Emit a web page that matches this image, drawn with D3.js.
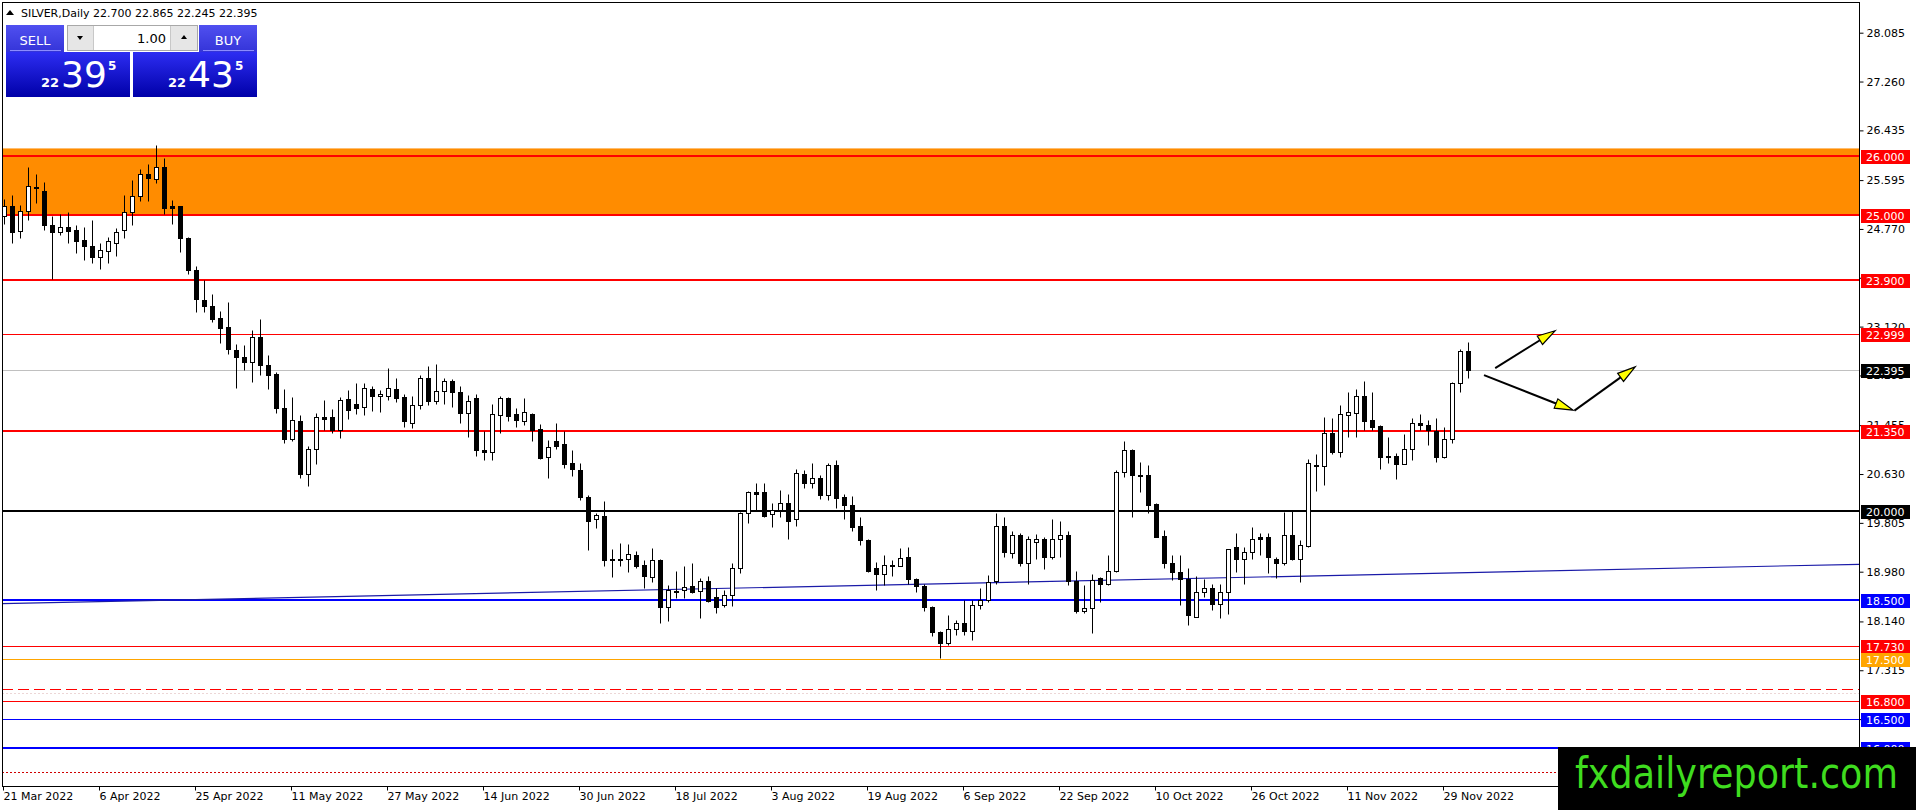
<!DOCTYPE html>
<html>
<head>
<meta charset="utf-8">
<script src="https://cdn.jsdelivr.net/npm/d3@7"></script>
<style>
  body { margin: 0; background: #fff; overflow: hidden; }
  svg { display: block; }
  text { font-family: "DejaVu Sans", sans-serif; }
</style>
</head>
<body>
<svg id="chart" width="1916" height="810"></svg>
<script>
// ---- data (SILVER, Daily, 21 Mar 2022 - 2 Dec 2022) ----
const symbol = "SILVER";
const period = "Daily";

const opens = [
  24.99, 25.16, 24.73, 25.07, 25.48, 25.41, 24.83, 24.71, 24.81, 24.75,
  24.58, 24.49, 24.29, 24.40, 24.54, 24.75, 25.05, 25.32, 25.69, 25.61,
  25.81, 25.15, 25.15, 24.62, 24.08, 23.57, 23.47, 23.26, 23.11, 22.73,
  22.60, 22.52, 22.94, 22.47, 22.32, 21.74, 21.22, 21.53, 20.63, 21.06,
  21.59, 21.59, 21.37, 21.89, 21.81, 21.76, 22.07, 21.94, 21.95, 22.07,
  21.93, 21.50, 21.79, 22.26, 21.87, 22.03, 22.20, 22.01, 21.66, 21.91,
  21.04, 21.00, 21.63, 21.92, 21.64, 21.53, 21.64, 21.39, 20.91, 21.19,
  21.13, 20.81, 20.70, 20.25, 19.87, 19.92, 19.20, 19.20, 19.20, 19.26,
  19.09, 18.89, 19.18, 18.38, 18.66, 18.67, 18.74, 18.65, 18.83, 18.56,
  18.42, 18.59, 19.04, 19.97, 20.33, 20.33, 19.96, 20.03, 20.14, 19.87,
  20.63, 20.48, 20.56, 20.27, 20.78, 20.24, 20.11, 19.75, 19.52, 19.04,
  18.94, 19.09, 19.08, 19.22, 18.85, 18.74, 18.38, 17.96, 17.77, 18.01,
  18.11, 17.97, 18.42, 18.50, 18.82, 19.76, 19.29, 19.60, 19.13, 19.49,
  19.53, 19.23, 19.53, 19.60, 18.83, 18.32, 18.36, 18.87, 18.78, 18.99,
  20.67, 21.03, 20.61, 20.61, 20.13, 19.58, 19.12, 18.98, 18.85, 18.22,
  18.63, 18.70, 18.44, 18.63, 19.39, 19.19, 19.31, 19.56, 19.56, 19.19,
  19.12, 19.60, 19.19, 19.42, 20.78, 20.76, 21.32, 21.01, 21.63, 21.66,
  21.95, 21.54, 21.44, 20.94, 20.94, 20.80, 21.05, 21.49, 21.46, 21.35,
  20.91, 21.22, 22.16, 22.700
];
const highs = [
  25.28, 25.34, 25.17, 25.81, 25.70, 25.56, 24.99, 25.03, 25.06, 24.83,
  24.81, 24.92, 24.54, 24.64, 24.78, 25.34, 25.59, 25.79, 25.87, 26.19,
  25.96, 25.26, 25.16, 24.64, 24.14, 23.90, 23.67, 23.38, 23.54, 22.82,
  22.81, 23.06, 23.25, 22.64, 22.36, 22.06, 21.93, 21.63, 21.10, 21.66,
  21.88, 21.72, 21.93, 22.05, 22.16, 22.17, 22.12, 22.05, 22.42, 22.25,
  21.98, 21.94, 22.30, 22.46, 22.49, 22.25, 22.23, 22.11, 21.97, 21.98,
  21.35, 21.81, 21.94, 21.93, 21.74, 21.91, 21.66, 21.47, 21.21, 21.50,
  21.35, 21.04, 20.81, 20.28, 19.98, 20.17, 19.36, 19.47, 19.44, 19.33,
  19.18, 19.38, 19.20, 18.76, 19.00, 19.07, 19.13, 18.87, 18.91, 18.70,
  18.67, 19.12, 19.99, 20.34, 20.48, 20.48, 20.14, 20.36, 20.30, 20.71,
  20.70, 20.82, 20.61, 20.82, 20.86, 20.29, 20.26, 19.91, 19.54, 19.15,
  19.26, 19.18, 19.38, 19.39, 18.87, 18.78, 18.40, 17.98, 18.25, 18.17,
  18.50, 18.51, 18.70, 18.93, 19.97, 19.90, 19.66, 19.64, 19.58, 19.62,
  19.56, 19.87, 19.83, 19.66, 19.00, 18.76, 18.94, 18.89, 19.26, 20.70,
  21.19, 21.05, 20.84, 20.78, 20.14, 19.69, 19.26, 19.26, 19.04, 18.91,
  18.85, 18.78, 18.78, 19.36, 19.63, 19.40, 19.74, 19.63, 19.63, 19.22,
  19.99, 20.02, 19.52, 20.88, 20.97, 21.60, 21.57, 21.80, 22.02, 22.07,
  22.20, 22.02, 21.45, 21.26, 20.99, 21.31, 21.57, 21.64, 21.54, 21.57,
  21.42, 22.19, 22.75, 22.865
];
const lows = [
  24.85, 24.54, 24.62, 24.92, 25.21, 24.76, 23.92, 24.66, 24.53, 24.37,
  24.25, 24.19, 24.09, 24.20, 24.32, 24.62, 24.83, 25.25, 25.25, 25.55,
  25.02, 24.85, 24.38, 24.01, 23.36, 23.36, 23.20, 22.85, 22.65, 22.09,
  22.39, 22.18, 22.30, 22.06, 21.66, 21.15, 21.19, 20.57, 20.42, 20.80,
  21.37, 21.33, 21.24, 21.56, 21.64, 21.63, 21.70, 21.68, 21.88, 21.84,
  21.43, 21.40, 21.72, 21.80, 21.82, 21.82, 21.77, 21.50, 21.25, 20.94,
  20.87, 20.87, 21.32, 21.53, 21.43, 21.46, 21.19, 20.88, 20.57, 21.06,
  20.74, 20.59, 20.19, 19.35, 19.72, 19.07, 18.89, 19.07, 18.98, 19.04,
  18.71, 18.81, 18.11, 18.15, 18.53, 18.53, 18.62, 18.20, 18.47, 18.28,
  18.38, 18.40, 18.95, 19.81, 20.03, 19.91, 19.74, 19.91, 19.53, 19.75,
  20.39, 20.39, 20.20, 20.19, 20.05, 19.87, 19.66, 19.43, 18.98, 18.67,
  18.76, 18.91, 19.07, 18.78, 18.64, 18.31, 17.89, 17.52, 17.74, 17.91,
  17.91, 17.83, 18.35, 18.47, 18.78, 19.23, 19.21, 19.08, 18.77, 19.19,
  19.03, 19.19, 19.23, 18.75, 18.29, 18.29, 17.94, 18.46, 18.76, 18.98,
  20.58, 19.91, 20.33, 19.97, 19.56, 19.04, 18.84, 18.42, 18.08, 18.21,
  18.56, 18.33, 18.19, 18.27, 18.98, 18.77, 19.19, 19.26, 18.96, 18.87,
  19.10, 19.17, 18.81, 19.40, 20.35, 20.45, 20.97, 20.92, 21.25, 21.26,
  21.37, 21.37, 20.72, 20.81, 20.55, 20.80, 20.87, 21.37, 21.12, 20.84,
  20.90, 21.16, 22.01, 22.245
];
const closes = [
  25.15, 24.72, 25.07, 25.49, 25.47, 24.83, 24.72, 24.81, 24.74, 24.57,
  24.49, 24.29, 24.41, 24.57, 24.71, 25.05, 25.32, 25.69, 25.63, 25.81,
  25.13, 25.13, 24.61, 24.08, 23.58, 23.46, 23.25, 23.10, 22.74, 22.60,
  22.53, 22.94, 22.48, 22.31, 21.75, 21.22, 21.54, 20.63, 21.06, 21.59,
  21.56, 21.37, 21.88, 21.71, 21.75, 22.08, 21.94, 21.98, 22.08, 21.92,
  21.52, 21.79, 22.26, 21.87, 22.04, 22.20, 22.01, 21.66, 21.86, 21.03,
  21.01, 21.65, 21.91, 21.61, 21.54, 21.67, 21.37, 20.90, 21.09, 21.11,
  20.80, 20.71, 20.24, 19.84, 19.94, 19.17, 19.17, 19.17, 19.28, 19.07,
  18.90, 19.18, 18.38, 18.67, 18.63, 18.72, 18.63, 18.83, 18.49, 18.39,
  18.59, 19.04, 19.97, 20.32, 20.30, 19.92, 20.02, 20.14, 19.84, 20.64,
  20.48, 20.56, 20.27, 20.78, 20.23, 20.10, 19.74, 19.51, 19.00, 18.94,
  19.09, 19.07, 19.21, 18.86, 18.73, 18.39, 17.96, 17.77, 18.01, 18.12,
  17.97, 18.42, 18.50, 18.81, 19.76, 19.31, 19.60, 19.13, 19.54, 19.53,
  19.23, 19.53, 19.60, 18.83, 18.32, 18.36, 18.84, 18.78, 19.00, 20.67,
  21.03, 20.61, 20.59, 20.11, 19.57, 19.12, 18.98, 18.85, 18.25, 18.63,
  18.70, 18.44, 18.63, 19.36, 19.19, 19.31, 19.54, 19.54, 19.22, 19.12,
  19.60, 19.19, 19.43, 20.81, 20.76, 21.32, 21.01, 21.64, 21.67, 21.95,
  21.53, 21.43, 20.92, 20.91, 20.80, 21.05, 21.50, 21.46, 21.37, 20.91,
  21.23, 22.16, 22.71, 22.395
];

// time axis: bar index of each label, and its text
const dateTickIdx = [0, 12, 24, 36, 48, 60, 72, 84, 96, 108, 120, 132, 144, 156, 168, 180];
const dateTickLabels = ["21 Mar 2022", "6 Apr 2022", "25 Apr 2022", "11 May 2022", "27 May 2022",
  "14 Jun 2022", "30 Jun 2022", "18 Jul 2022", "3 Aug 2022", "19 Aug 2022", "6 Sep 2022",
  "22 Sep 2022", "10 Oct 2022", "26 Oct 2022", "11 Nov 2022", "29 Nov 2022"];

// price axis ticks
const priceTicks = [28.085, 27.260, 26.435, 25.595, 24.770, 23.945, 23.120, 22.295,
  21.455, 20.630, 19.805, 18.980, 18.140, 17.315, 16.490, 15.665];

// drawn objects
const zoneLow = 25.0, zoneHigh = 26.13;
const levelPrices = [26.0, 25.0, 23.9, 22.999, 21.35, 20.0, 18.5, 17.73, 17.5, 17.0, 16.93, 16.8, 16.5, 16.0, 15.6];
const trendBars = [-0.25, 231.9];
const trendPrices = [18.44, 19.105];
const arrowFrom = [[186.4, 22.42], [185.0, 22.30], [196.3, 21.70]];
const arrowTo = [[193.9, 23.05], [196.1, 21.71], [203.9, 22.44]];
const bid = 22.395, ask = 22.435, lotSize = "1.00";

// ---- layout ----
const svg = d3.select("#chart");
const plot = { left: 2, top: 2, right: 1859, bottom: 786 };

const x = d3.scaleLinear().domain([0, 232]).range([4, 4 + 8 * 232]);
const y = d3.scaleLinear().domain([18.980, 28.085]).range([571.7, 32.7]);
const px = v => Math.round(x(v)) + 0.5;
const py = v => Math.round(y(v)) + 0.5;

svg.append("defs").append("clipPath").attr("id", "plotClip")
  .append("rect").attr("x", plot.left).attr("y", plot.top)
  .attr("width", plot.right - plot.left).attr("height", plot.bottom - plot.top);

const g = svg.append("g").attr("clip-path", "url(#plotClip)");

// orange zone
g.append("rect")
  .attr("x", plot.left).attr("width", plot.right - plot.left)
  .attr("y", y(zoneHigh)).attr("height", y(zoneLow) - y(zoneHigh))
  .attr("fill", "#ff8c00");

// horizontal levels (style per level, same order as levelPrices)
const levelStyle = [
  { c: "#ff0000", w: 2, box: "#ff0000" },
  { c: "#ff0000", w: 2, box: "#ff0000" },
  { c: "#ff0000", w: 2, box: "#ff0000" },
  { c: "#ff0000", w: 1, box: "#ff0000" },
  { c: "#ff0000", w: 2, box: "#ff0000" },
  { c: "#000000", w: 2, box: "#000000" },
  { c: "#0000ff", w: 2, box: "#0000ff" },
  { c: "#ff0000", w: 1, box: "#ff0000" },
  { c: "#ffa500", w: 1, box: "#ffa500" },
  { c: "#ff0000", w: 1, dash: "11,5" },
  { c: "#ecd6d6", w: 1, dash: "2,2" },
  { c: "#ff0000", w: 1, box: "#ff0000" },
  { c: "#0000ff", w: 1, box: "#0000ff" },
  { c: "#0000ff", w: 2, box: "#0000ff" },
  { c: "#d00000", w: 1, dash: "2,2" }
];

// bid line
g.append("line")
  .attr("x1", plot.left).attr("x2", plot.right)
  .attr("y1", py(bid)).attr("y2", py(bid))
  .attr("stroke", "#c0c0c0").attr("stroke-width", 1);

levelPrices.forEach((p, i) => {
  const s = levelStyle[i];
  const yy = s.w === 2 ? Math.round(y(p)) : py(p);
  const ln = g.append("line")
    .attr("x1", plot.left).attr("x2", plot.right)
    .attr("y1", yy).attr("y2", yy)
    .attr("stroke", s.c).attr("stroke-width", s.w);
  if (s.dash) ln.attr("stroke-dasharray", s.dash);
});

// trend line
g.append("line")
  .attr("x1", x(trendBars[0])).attr("y1", y(trendPrices[0]))
  .attr("x2", x(trendBars[1])).attr("y2", y(trendPrices[1]))
  .attr("stroke", "#1a1aa8").attr("stroke-width", 1.2);

// candles
const bars = opens.map((o, i) => ({ i, o, h: highs[i], l: lows[i], c: closes[i] }));

g.append("g").selectAll("line")
  .data(bars).join("line")
  .attr("x1", d => px(d.i)).attr("x2", d => px(d.i))
  .attr("y1", d => py(d.h)).attr("y2", d => py(d.l))
  .attr("stroke", "#000").attr("stroke-width", 1);

g.append("g").selectAll("rect")
  .data(bars).join("rect")
  .attr("x", d => px(d.i) - 2)
  .attr("width", 4)
  .attr("y", d => py(Math.max(d.o, d.c)))
  .attr("height", d => Math.max(1, py(Math.min(d.o, d.c)) - py(Math.max(d.o, d.c))))
  .attr("fill", d => d.c >= d.o ? "#fff" : "#000")
  .attr("stroke", "#000").attr("stroke-width", 1);

// arrows
arrowFrom.forEach((a, k) => {
  const x1 = x(a[0]), y1 = y(a[1]), x2 = x(arrowTo[k][0]), y2 = y(arrowTo[k][1]);
  const ang = Math.atan2(y2 - y1, x2 - x1);
  const len = 18, half = 5;
  const bx = x2 - len * Math.cos(ang), by = y2 - len * Math.sin(ang);
  g.append("line")
    .attr("x1", x1).attr("y1", y1).attr("x2", bx).attr("y2", by)
    .attr("stroke", "#000").attr("stroke-width", 2);
  const pts = [
    [x2, y2],
    [bx + half * Math.sin(ang), by - half * Math.cos(ang)],
    [bx - half * Math.sin(ang), by + half * Math.cos(ang)]
  ];
  g.append("polygon")
    .attr("points", pts.map(p => p.join(",")).join(" "))
    .attr("fill", "#ffff00").attr("stroke", "#000").attr("stroke-width", 1.2);
});

// frame
svg.append("rect")
  .attr("x", plot.left + 0.5).attr("y", plot.top + 0.5)
  .attr("width", plot.right - plot.left).attr("height", plot.bottom - plot.top)
  .attr("fill", "none").attr("stroke", "#000").attr("stroke-width", 1);

// price axis
const yAxis = svg.append("g")
  .attr("transform", `translate(${plot.right + 0.5},0)`)
  .call(d3.axisRight(y).tickValues(priceTicks).tickFormat(d3.format(".3f")).tickSize(4).tickPadding(3));
yAxis.select(".domain").remove();
yAxis.selectAll("text").attr("font-family", "DejaVu Sans").attr("font-size", 11).attr("fill", "#000");
yAxis.selectAll("line").attr("stroke", "#000");

// price labels on the axis
const labelPrices = [bid].concat(levelPrices);
const labelBoxes = [{ box: "#000000" }].concat(levelStyle);
labelPrices.forEach((p, i) => {
  const s = labelBoxes[i];
  if (!s.box) return;
  const yy = Math.round(y(p));
  svg.append("rect")
    .attr("x", plot.right + 2).attr("y", yy - 6)
    .attr("width", 49).attr("height", 14)
    .attr("fill", s.box);
  svg.append("text")
    .attr("x", plot.right + 7).attr("y", yy + 5)
    .attr("font-size", 11).attr("fill", "#fff")
    .text(d3.format(".3f")(p));
});

// time axis
const xAxis = svg.append("g")
  .attr("transform", `translate(0,${plot.bottom + 0.5})`)
  .call(d3.axisBottom(x).tickValues(dateTickIdx)
    .tickFormat((d, i) => dateTickLabels[i]).tickSize(4).tickPadding(2));
xAxis.select(".domain").remove();
xAxis.selectAll("line").attr("stroke", "#000").attr("transform", "translate(-1,0)");
xAxis.selectAll("text")
  .attr("text-anchor", "start").attr("x", -1)
  .attr("font-family", "DejaVu Sans").attr("font-size", 11).attr("fill", "#000");

// header
const last = bars[bars.length - 1];
const f3 = d3.format(".3f");
svg.append("path").attr("d", "M6,15 L10,10 L14,15 Z").attr("fill", "#000");
svg.append("text")
  .attr("x", 21).attr("y", 17).attr("font-size", 11).attr("fill", "#000")
  .text(`${symbol},${period}  ${f3(last.o)} ${f3(last.h)} ${f3(last.l)} ${f3(last.c)}`);

// trade panel
const defs = svg.select("defs");
const gradBtn = defs.append("linearGradient").attr("id", "gBtn").attr("x1", 0).attr("y1", 0).attr("x2", 0).attr("y2", 1);
gradBtn.append("stop").attr("offset", 0).attr("stop-color", "#5050f0");
gradBtn.append("stop").attr("offset", 1).attr("stop-color", "#3434d8");
const gradPx = defs.append("linearGradient").attr("id", "gPx").attr("x1", 0).attr("y1", 0).attr("x2", 0).attr("y2", 1);
gradPx.append("stop").attr("offset", 0).attr("stop-color", "#2d2df2");
gradPx.append("stop").attr("offset", 1).attr("stop-color", "#0000a8");

const panel = svg.append("g");
function priceBlock(x0, w, value, btnX, btnW, label) {
  panel.append("rect").attr("x", btnX).attr("y", 25).attr("width", btnW).attr("height", 27).attr("fill", "url(#gBtn)");
  panel.append("line").attr("x1", btnX + 4).attr("x2", btnX + btnW - 3).attr("y1", 50.5).attr("y2", 50.5)
    .attr("stroke", "#8c8cff").attr("stroke-width", 1);
  panel.append("text").attr("x", btnX + btnW / 2).attr("y", 45).attr("text-anchor", "middle")
    .attr("font-size", 13).attr("fill", "#fff").text(label);
  panel.append("rect").attr("x", x0).attr("y", 52).attr("width", w).attr("height", 45).attr("fill", "url(#gPx)");
  const s = f3(value);
  const big = s.slice(0, 2), mid = s.slice(3, 5), pip = s.slice(5);
  const cx = x0 + w / 2;
  panel.append("text").attr("x", cx - 9).attr("y", 87).attr("text-anchor", "end")
    .attr("font-size", 13).attr("font-weight", "bold").attr("fill", "#fff").text(big);
  panel.append("text").attr("x", cx - 7).attr("y", 87)
    .attr("font-size", 36).attr("fill", "#fff").text(mid);
  panel.append("text").attr("x", cx + 40).attr("y", 70)
    .attr("font-size", 12).attr("font-weight", "bold").attr("fill", "#fff").text(pip);
}
priceBlock(6, 124, bid, 6, 58, "SELL");
priceBlock(133, 124, ask, 199, 58, "BUY");

// lot spinner
panel.append("rect").attr("x", 67.5).attr("y", 25.5).attr("width", 130).attr("height", 25)
  .attr("fill", "#fff").attr("stroke", "#a8a8a8");
panel.append("rect").attr("x", 68).attr("y", 26).attr("width", 25).attr("height", 24).attr("fill", "#e6e6e6");
panel.append("rect").attr("x", 171).attr("y", 26).attr("width", 26).attr("height", 24).attr("fill", "#e6e6e6");
panel.append("line").attr("x1", 93.5).attr("x2", 93.5).attr("y1", 26).attr("y2", 50).attr("stroke", "#c8c8c8");
panel.append("line").attr("x1", 170.5).attr("x2", 170.5).attr("y1", 26).attr("y2", 50).attr("stroke", "#c8c8c8");
panel.append("path").attr("d", "M77,36 L83,36 L80,40 Z").attr("fill", "#000");
panel.append("path").attr("d", "M181,39 L187,39 L184,35 Z").attr("fill", "#000");
panel.append("text").attr("x", 166).attr("y", 43).attr("text-anchor", "end")
  .attr("font-size", 13).attr("fill", "#000").text(lotSize);

// watermark box
svg.append("rect").attr("x", 1558).attr("y", 747).attr("width", 358).attr("height", 63).attr("fill", "#000");
svg.append("text")
  .attr("x", 1575).attr("y", 788)
  .attr("font-family", "Liberation Sans, Arial, sans-serif")
  .attr("font-size", 42).attr("fill", "#3fdc1f")
  .attr("textLength", 323).attr("lengthAdjust", "spacingAndGlyphs")
  .text("fxdailyreport.com");
</script>
</body>
</html>
